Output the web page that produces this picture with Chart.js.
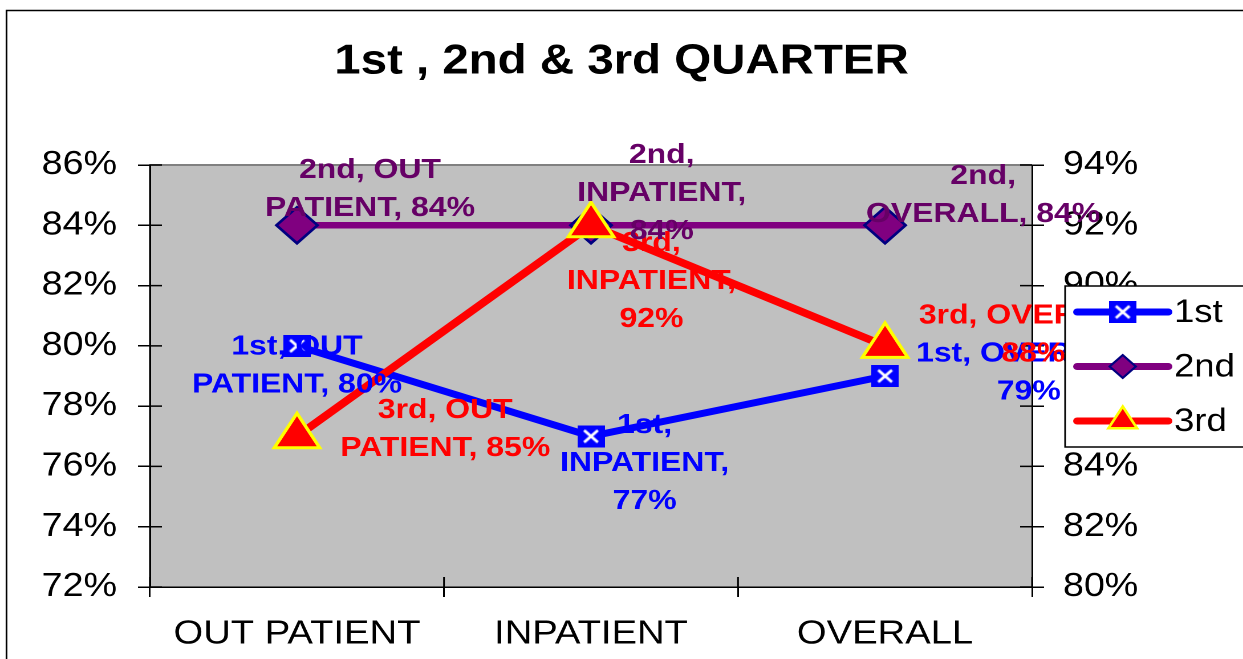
<!DOCTYPE html>
<html>
<head>
<meta charset="utf-8">
<title>1st , 2nd & 3rd QUARTER</title>
<script src="https://cdn.jsdelivr.net/npm/chart.js"></script>
<style>
  html, body { margin: 0; padding: 0; background: #fff; overflow: hidden; }
  /* the original picture is stretched sideways, so is this one */
  #wrap { width: 1090px; height: 659px; transform: scaleX(1.1404); transform-origin: 0 0; }
</style>
</head>
<body>
<div id="wrap"><canvas id="chart" width="1090" height="659"></canvas></div>
<script>
// chart data
const categories = ['OUT PATIENT', 'INPATIENT', 'OVERALL'];
const seriesNames = ['1st', '2nd', '3rd'];
const firstQuarter = [80, 77, 79];    // left axis
const secondQuarter = [84, 84, 84];   // left axis
const thirdQuarter = [85, 92, 88];    // right axis
const leftTicks = [72, 74, 76, 78, 80, 82, 84, 86];
const rightTicks = [80, 82, 84, 86, 88, 90, 92, 94];

const FONT = "'Liberation Sans', Arial, sans-serif";
const seriesColors = ['#0000FF', '#800080', '#FF0000'];
const labelColors = ['#0000FF', '#660066', '#FF0000'];

// blue square with a white cross, used as the "1st" marker
function makeBoxCross() {
    const c = document.createElement('canvas');
    c.width = 24;
    c.height = 22;
    const g = c.getContext('2d');
    g.fillStyle = '#0000FF';
    g.fillRect(0, 0, 24, 22);
    g.strokeStyle = '#FFFFFF';
    g.lineWidth = 2.5;
    g.beginPath();
    g.moveTo(6, 5); g.lineTo(18, 17);
    g.moveTo(18, 5); g.lineTo(6, 17);
    g.stroke();
    return c;
}
const boxCross = makeBoxCross();

// split the words of a label into lines, counts = words per line
function splitWords(text, counts) {
    const words = text.split(' ');
    const lines = [];
    let k = 0;
    counts.forEach(n => {
        lines.push(words.slice(k, k + n).join(' '));
        k += n;
    });
    return lines;
}

function drawMarker(ctx, ds, x, y, r) {
    const style = ds.pointStyle;
    if (typeof style === 'object') {
        ctx.drawImage(style, x - style.width / 2, y - style.height / 2);
        return;
    }
    ctx.beginPath();
    if (style === 'rectRot') {
        ctx.moveTo(x - r, y); ctx.lineTo(x, y - r); ctx.lineTo(x + r, y); ctx.lineTo(x, y + r);
    } else {
        ctx.moveTo(x, y - r);
        ctx.lineTo(x + Math.sin(2 * Math.PI / 3) * r, y + r / 2);
        ctx.lineTo(x - Math.sin(2 * Math.PI / 3) * r, y + r / 2);
    }
    ctx.closePath();
    ctx.fillStyle = ds.pointBackgroundColor;
    ctx.fill();
    ctx.lineWidth = ds.pointBorderWidth * 0.8;
    ctx.strokeStyle = ds.pointBorderColor;
    ctx.lineJoin = 'miter';
    ctx.stroke();
}

// grey plot area, outer frame and the inner half of the tick marks
const frame = {
    id: 'frame',
    beforeDraw(chart) {
        const { ctx, chartArea: a } = chart;
        ctx.save();
        ctx.strokeStyle = '#000';
        ctx.lineWidth = 1.5;
        ctx.strokeRect(5.7, 10.5, chart.width + 20, chart.height + 20);
        ctx.fillStyle = '#C0C0C0';
        ctx.fillRect(a.left, a.top, a.right - a.left, a.bottom - a.top);
        ctx.strokeStyle = '#808080';
        ctx.lineWidth = 2;
        ctx.beginPath();
        ctx.moveTo(a.left, a.bottom);
        ctx.lineTo(a.left, a.top);
        ctx.lineTo(a.right, a.top);
        ctx.stroke();
        ctx.restore();
    },
    beforeDatasetsDraw(chart) {
        const { ctx, chartArea: a, scales } = chart;
        ctx.save();
        ctx.strokeStyle = '#000';
        ctx.lineWidth = 1.5;
        ctx.beginPath();
        scales.y.ticks.forEach((t, i) => {
            const py = scales.y.getPixelForTick(i);
            ctx.moveTo(a.left, py); ctx.lineTo(a.left + 10.5, py);
        });
        scales.y1.ticks.forEach((t, i) => {
            const py = scales.y1.getPixelForTick(i);
            ctx.moveTo(a.right - 10.5, py); ctx.lineTo(a.right, py);
        });
        const n = categories.length;
        for (let i = 0; i <= n; i++) {
            const px = a.left + i * (a.right - a.left) / n;
            ctx.moveTo(px, a.bottom - 10); ctx.lineTo(px, a.bottom);
        }
        ctx.stroke();
        ctx.restore();
    }
};

// "series, category, value" labels next to every point
const pointLabels = {
    id: 'pointLabels',
    afterDatasetsDraw(chart, args, opts) {
        const ctx = chart.ctx;
        ctx.save();
        ctx.font = 'bold ' + opts.size + 'px ' + FONT;
        ctx.textAlign = 'center';
        ctx.textBaseline = 'middle';
        opts.order.forEach(di => {
            const ds = chart.data.datasets[di];
            const meta = chart.getDatasetMeta(di);
            meta.data.forEach((pt, i) => {
                const text = ds.label + ', ' + chart.data.labels[i] + ', ' + ds.data[i] + '%';
                const lines = splitWords(text, opts.breaks[di][i]);
                const off = opts.offsets[di][i];
                const cx = pt.x + off[0];
                const cy = pt.y + off[1];
                ctx.fillStyle = labelColors[di];
                lines.forEach((ln, k) => {
                    ctx.fillText(ln, cx, cy + (k - (lines.length - 1) / 2) * opts.lineHeight);
                });
            });
        });
        ctx.restore();
    }
};

// legend box on the right, drawn over the labels
const sideLegend = {
    id: 'sideLegend',
    afterDraw(chart) {
        const ctx = chart.ctx;
        const x0 = 934, y0 = 286, y1 = 447;
        const legendRadius = { rectRot: 11.5, triangle: 14.5 };
        ctx.save();
        ctx.fillStyle = '#fff';
        ctx.fillRect(x0, y0, chart.width - x0 + 10, y1 - y0);
        ctx.strokeStyle = '#000';
        ctx.lineWidth = 1.5;
        ctx.strokeRect(x0, y0, chart.width - x0 + 10, y1 - y0);
        ctx.font = '32px ' + FONT;
        ctx.textBaseline = 'middle';
        ctx.textAlign = 'left';
        chart.data.datasets.forEach((ds, i) => {
            const y = y0 + 26 + i * 54.5;
            ctx.strokeStyle = ds.borderColor;
            ctx.lineWidth = 7;
            ctx.lineCap = 'round';
            ctx.beginPath();
            ctx.moveTo(944.5, y); ctx.lineTo(1024.5, y);
            ctx.stroke();
            drawMarker(ctx, ds, 984.5, y, legendRadius[ds.pointStyle]);
            ctx.fillStyle = '#000';
            ctx.fillText(ds.label, 1029.5, y + 1);
        });
        ctx.restore();
    }
};

const ctx = document.getElementById('chart');

new Chart(ctx, {
    type: 'line',
    data: {
        labels: categories,
        datasets: [
            {
                label: seriesNames[0],
                data: firstQuarter,
                yAxisID: 'y',
                borderColor: seriesColors[0],
                borderWidth: 7,
                pointStyle: boxCross,
                pointRadius: 12,
                order: 1
            },
            {
                label: seriesNames[1],
                data: secondQuarter,
                yAxisID: 'y',
                borderColor: seriesColors[1],
                borderWidth: 6.5,
                pointStyle: 'rectRot',
                pointRadius: 18,
                pointBackgroundColor: '#800080',
                pointBorderColor: '#000080',
                pointBorderWidth: 2.5,
                order: 2
            },
            {
                label: seriesNames[2],
                data: thirdQuarter,
                yAxisID: 'y1',
                borderColor: seriesColors[2],
                borderWidth: 7.5,
                pointStyle: 'triangle',
                pointRadius: 23,
                pointBackgroundColor: '#FF0000',
                pointBorderColor: '#FFFF00',
                pointBorderWidth: 3,
                order: 0
            }
        ]
    },
    options: {
        responsive: false,
        devicePixelRatio: 2,
        animation: false,
        events: [],
        layout: { padding: 0 },
        elements: { line: { tension: 0, fill: false }, point: { hoverRadius: 0 } },
        datasets: { line: { clip: false } },
        plugins: {
            legend: { display: false },
            tooltip: { enabled: false },
            title: {
                display: true,
                text: '1st , 2nd & 3rd QUARTER',
                color: '#000',
                font: { family: FONT, size: 41.6, weight: 'bold' },
                padding: { top: 37, bottom: 78.1 }
            },
            pointLabels: {
                size: 28,
                lineHeight: 38,
                order: [0, 2, 1],
                breaks: [
                    [[2, 2], [1, 1, 1], [2, 1]],
                    [[2, 2], [1, 1, 1], [1, 2]],
                    [[2, 2], [1, 1, 1], [2, 1]]
                ],
                offsets: [
                    [[0, 20], [47, 27], [126, -3]],
                    [[64, -36], [62, -32], [86, -30]],
                    [[130, -7], [53, 56], [130, -11]]
                ]
            }
        },
        scales: {
            x: {
                offset: true,
                grid: { offset: true, drawOnChartArea: false, tickLength: 10, color: '#000', lineWidth: 1.5 },
                border: { color: '#000', width: 1.5 },
                ticks: { color: '#000', font: { family: FONT, size: 33.5 }, padding: 17, maxRotation: 0 },
                afterFit(scale) { scale.height = 72; }
            },
            y: {
                position: 'left',
                min: leftTicks[0],
                max: leftTicks[leftTicks.length - 1],
                grid: { drawOnChartArea: false, tickLength: 10.5, color: '#000', lineWidth: 1.5 },
                border: { color: '#000', width: 1.5 },
                ticks: {
                    stepSize: leftTicks[1] - leftTicks[0],
                    autoSkip: false,
                    color: '#000',
                    font: { family: FONT, size: 33 },
                    padding: 18.4,
                    callback: v => v + '%'
                },
                afterFit(scale) { scale.width = 131.5; }
            },
            y1: {
                position: 'right',
                min: rightTicks[0],
                max: rightTicks[rightTicks.length - 1],
                grid: { drawOnChartArea: false, tickLength: 10.5, color: '#000', lineWidth: 1.5 },
                border: { color: '#000', width: 1.5 },
                ticks: {
                    stepSize: rightTicks[1] - rightTicks[0],
                    autoSkip: false,
                    color: '#000',
                    font: { family: FONT, size: 33 },
                    padding: 16.6,
                    callback: v => v + '%'
                },
                afterFit(scale) { scale.width = 185; }
            }
        }
    },
    plugins: [frame, pointLabels, sideLegend]
});
</script>
</body>
</html>
